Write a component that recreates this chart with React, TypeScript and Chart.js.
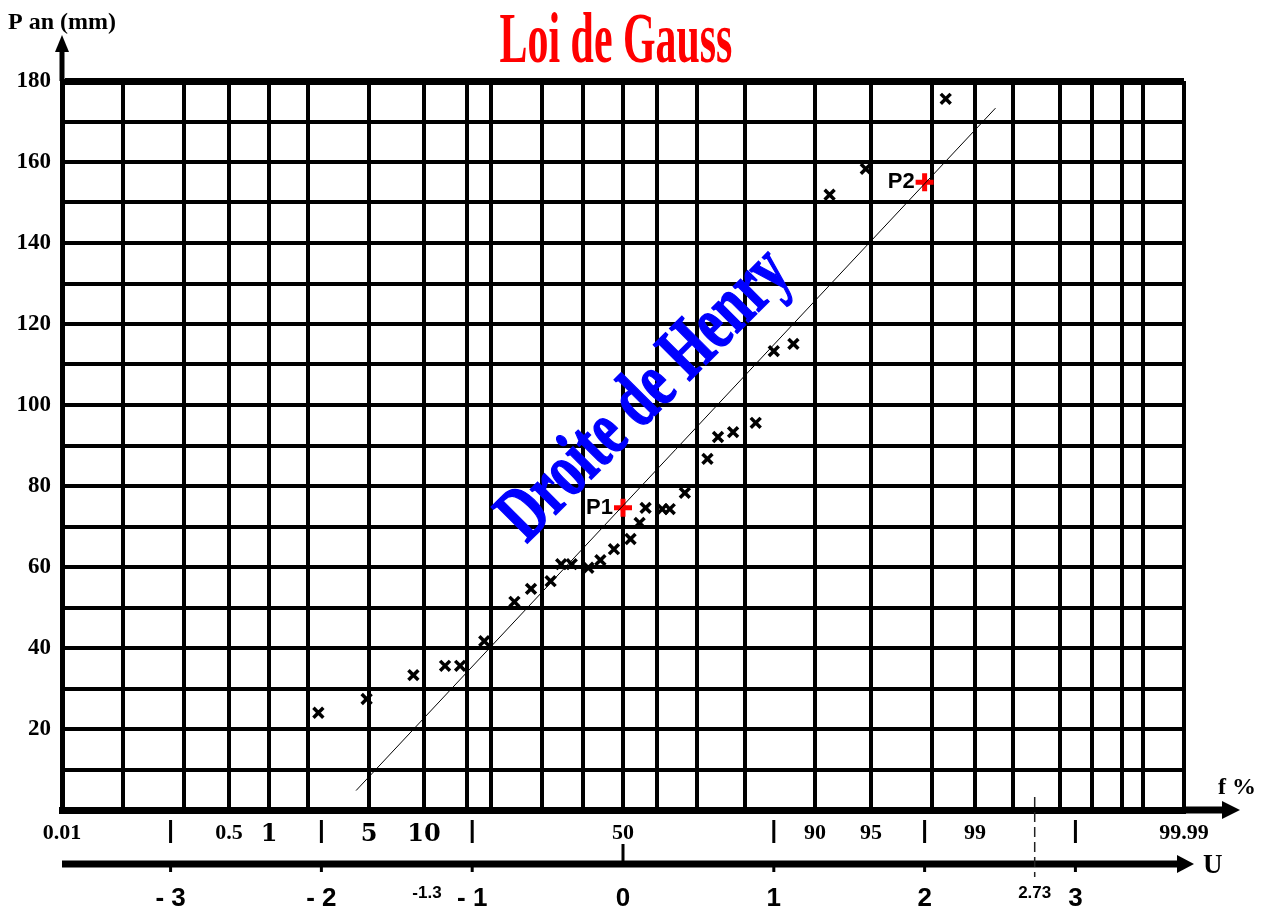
import React, { useEffect, useRef } from "react";
import { Chart, registerables } from "chart.js";

Chart.register(...registerables);

// ---- Data ----
const yMin = 0;
const yMax = 180;
const yStep = 10;
const yLabelValues = [20, 40, 60, 80, 100, 120, 140, 160, 180];

// probability grid (f %) and where each line sits on the U (normal variable) scale
const probGrid = ["0.01", "0.05", "0.2", "0.5", "1", "2", "5", "10", "15", "20", "30", "40", "50", "60", "70", "80", "90", "95", "98", "99", "99.5", "99.8", "99.9", "99.95", "99.97", "99.99"];
const gridU = [-3.72, -3.316, -2.911, -2.613, -2.347, -2.089, -1.684, -1.32, -1.034, -0.875, -0.537, -0.265, 0, 0.225, 0.491, 0.809, 1.273, 1.645, 2.049, 2.334, 2.586, 2.898, 3.11, 3.309, 3.448, 3.72];
const probLabelShown = ["0.01", "0.5", "1", "5", "10", "50", "90", "95", "99", "99.99"];
const probBigLabels = ["1", "5", "10"];

// U axis
const uTicks = [-3, -2, -1.3, -1, 0, 1, 2, 2.73, 3];
const uTickLabels = ["- 3", "- 2", "-1.3", "- 1", "0", "1", "2", "2.73", "3"];
const uSmallLabels = ["-1.3", "2.73"];
const uMarks = [-3, -2, -1, 1, 2, 3];
const uDashed = 2.73;

// observed annual precipitation (mm) vs U
const obsU = [-2.02, -1.70, -1.39, -1.18, -1.08, -0.92, -0.72, -0.61, -0.48, -0.41, -0.34, -0.23, -0.15, -0.06, 0.05, 0.11, 0.15, 0.26, 0.31, 0.41, 0.56, 0.63, 0.73, 0.88, 1.0, 1.13, 1.37, 1.61, 2.14];
const obsP = [24.0, 27.4, 33.3, 35.6, 35.6, 41.7, 51.4, 54.6, 56.5, 60.7, 60.7, 59.8, 61.7, 64.4, 66.9, 70.9, 74.6, 74.3, 74.3, 78.3, 86.7, 92.1, 93.3, 95.6, 113.3, 115.1, 151.9, 158.3, 175.6];

// Droite de Henry
const henryU = [-1.77, 2.47];
const henryP = [4.8, 173.3];

// reference points
const refNames = ["P1", "P2"];
const refU = [0, 2];
const refP = [74.6, 155];

const SERIF = '"Liberation Serif", "Times New Roman", serif';
const SANS = '"Liberation Sans", Arial, sans-serif';

function tri(ctx: CanvasRenderingContext2D, pts: number[][]) {
  ctx.beginPath();
  ctx.moveTo(pts[0][0], pts[0][1]);
  for (let i = 1; i < pts.length; i++) ctx.lineTo(pts[i][0], pts[i][1]);
  ctx.closePath();
  ctx.fill();
}

const decoPlugin = {
  id: "deco",
  afterDraw(chart: any) {
    const ctx: CanvasRenderingContext2D = chart.ctx;
    const a = chart.chartArea;
    const xs = chart.scales.x;
    const ys = chart.scales.y;
    ctx.save();
    ctx.fillStyle = "#000";
    ctx.strokeStyle = "#000";

    // vertical axis extension + arrow
    ctx.lineWidth = 5;
    ctx.beginPath();
    ctx.moveTo(a.left, a.top);
    ctx.lineTo(a.left, a.top - 31);
    ctx.stroke();
    tri(ctx, [[a.left - 7, a.top - 29], [a.left + 7, a.top - 29], [a.left, a.top - 46]]);

    // y axis title
    ctx.font = `bold 24px ${SERIF}`;
    ctx.textAlign = "left";
    ctx.textBaseline = "middle";
    ctx.fillText("P an (mm)", 8, 23);

    // f % axis extension + arrow
    ctx.lineWidth = 7;
    ctx.beginPath();
    ctx.moveTo(a.right - 2, a.bottom);
    ctx.lineTo(a.right + 40, a.bottom);
    ctx.stroke();
    tri(ctx, [[a.right + 38, a.bottom - 9], [a.right + 38, a.bottom + 9], [a.right + 56, a.bottom]]);
    ctx.font = `bold 24px ${SERIF}`;
    ctx.fillText("f %", a.right + 34, a.bottom - 22);

    // marks between the two axes at integer U
    for (const u of uMarks) {
      const px = xs.getPixelForValue(u);
      ctx.fillRect(px - 1.5, a.bottom + 10, 3, 23);
    }

    // U axis
    const uy = a.bottom + 54;
    ctx.lineWidth = 7;
    ctx.beginPath();
    ctx.moveTo(a.left, uy);
    ctx.lineTo(a.right - 4, uy);
    ctx.stroke();
    tri(ctx, [[a.right - 7, uy - 9], [a.right - 7, uy + 9], [a.right + 10, uy]]);
    ctx.font = `bold 27px ${SERIF}`;
    ctx.fillText("U", a.right + 19, uy + 2);
    for (const u of uMarks) {
      const px = xs.getPixelForValue(u);
      ctx.fillRect(px - 1.5, uy, 3, 8);
    }
    const p0 = xs.getPixelForValue(0);
    ctx.fillRect(p0 - 1.5, uy - 20, 3, 20);

    // dashed line at U = 2.73
    const pd = xs.getPixelForValue(uDashed);
    ctx.lineWidth = 1.5;
    ctx.strokeStyle = "#222";
    ctx.setLineDash([10, 5]);
    ctx.beginPath();
    ctx.moveTo(pd, a.bottom - 13);
    ctx.lineTo(pd, a.bottom + 67);
    ctx.stroke();
    ctx.setLineDash([]);

    // reference point labels
    ctx.font = `bold 22px ${SANS}`;
    ctx.textAlign = "right";
    ctx.textBaseline = "middle";
    ctx.fillStyle = "#000";
    for (let i = 0; i < refNames.length; i++) {
      const px = xs.getPixelForValue(refU[i]);
      const py = ys.getPixelForValue(refP[i]);
      ctx.fillText(refNames[i], px - 10, py);
    }

    // title
    ctx.save();
    ctx.translate(616, 62);
    ctx.scale(0.59, 1);
    ctx.font = `bold 71px ${SERIF}`;
    ctx.fillStyle = "#ff0000";
    ctx.textAlign = "center";
    ctx.textBaseline = "alphabetic";
    ctx.fillText("Loi de Gauss", 0, 0);
    ctx.restore();

    // Droite de Henry label
    ctx.save();
    ctx.translate(646, 396);
    ctx.rotate(-Math.PI / 4);
    ctx.scale(0.7, 1);
    ctx.font = `bold 78px ${SERIF}`;
    ctx.fillStyle = "#0000ff";
    ctx.strokeStyle = "#0000ff";
    ctx.lineWidth = 1.5;
    ctx.textAlign = "center";
    ctx.textBaseline = "middle";
    ctx.fillText("Droite de Henry", 0, 0);
    ctx.strokeText("Droite de Henry", 0, 0);
    ctx.restore();

    ctx.restore();
  },
};

export default function App() {
  const ref = useRef<HTMLCanvasElement | null>(null);

  useEffect(() => {
    if (!ref.current) return;
    const chart = new Chart(ref.current, {
      type: "scatter",
      data: {
        datasets: [
          {
            label: "Henry",
            data: henryU.map((u, i) => ({ x: u, y: henryP[i] })),
            showLine: true,
            borderColor: "#000",
            borderWidth: 1,
            pointRadius: 0,
          },
          {
            label: "Observations",
            data: obsU.map((u, i) => ({ x: u, y: obsP[i] })),
            pointStyle: "crossRot",
            pointRadius: 7,
            borderColor: "#000",
            backgroundColor: "#000",
            borderWidth: 3.5,
          },
          {
            label: "Points",
            data: refU.map((u, i) => ({ x: u, y: refP[i] })),
            pointStyle: "cross",
            pointRadius: 9,
            borderColor: "#ff0000",
            backgroundColor: "#ff0000",
            borderWidth: 5,
          },
        ],
      },
      options: {
        responsive: false,
        animation: false,
        devicePixelRatio: 1,
        layout: { padding: { left: 0, right: 82, top: 81, bottom: 0 } },
        plugins: {
          legend: { display: false },
          tooltip: { enabled: false },
          title: { display: false },
        },
        scales: {
          x: {
            type: "linear",
            position: "bottom",
            min: gridU[0],
            max: gridU[gridU.length - 1],
            afterBuildTicks: (s: any) => {
              s.ticks = gridU.map((v) => ({ value: v }));
            },
            afterFit: (s: any) => {
              s.height = 40;
            },
            grid: { color: "#000", lineWidth: 4, drawTicks: false },
            border: { display: true, color: "#000", width: 7 },
            ticks: {
              autoSkip: false,
              maxRotation: 0,
              minRotation: 0,
              padding: 10,
              color: "#000",
              callback: (_v: any, i: number) => (probLabelShown.includes(probGrid[i]) ? probGrid[i] : ""),
              font: (c: any) =>
                probBigLabels.includes(probGrid[c.index])
                  ? { family: '"DejaVu Serif", serif', size: 24, weight: "bold" }
                  : { family: SERIF, size: 22, weight: "bold" },
            },
          },
          x2: {
            type: "linear",
            position: "bottom",
            min: gridU[0],
            max: gridU[gridU.length - 1],
            afterBuildTicks: (s: any) => {
              s.ticks = uTicks.map((v) => ({ value: v }));
            },
            afterFit: (s: any) => {
              s.height = 61;
            },
            grid: { display: false, drawTicks: false },
            border: { display: false },
            ticks: {
              autoSkip: false,
              maxRotation: 0,
              minRotation: 0,
              padding: 33,
              color: "#000",
              callback: (_v: any, i: number) => uTickLabels[i],
              font: (c: any) =>
                uSmallLabels.includes(uTickLabels[c.index])
                  ? { family: SANS, size: 17, weight: "bold" }
                  : { family: SANS, size: 26, weight: "bold" },
            },
          },
          y: {
            type: "linear",
            position: "left",
            min: yMin,
            max: yMax,
            afterFit: (s: any) => {
              s.width = 62;
            },
            grid: {
              color: "#000",
              lineWidth: (c: any) => (c.tick && c.tick.value === yMax ? 7 : 4),
              drawTicks: false,
            },
            border: { display: true, color: "#000", width: 5 },
            ticks: {
              stepSize: yStep,
              autoSkip: false,
              padding: 11,
              color: "#000",
              font: { family: SERIF, size: 23, weight: "bold" },
              callback: (v: any) => (yLabelValues.includes(Number(v)) ? String(v) : ""),
            },
          },
        },
      } as any,
      plugins: [decoPlugin],
    });
    return () => chart.destroy();
  }, []);

  return (
    <div style={{ position: "absolute", left: 0, top: 0, width: 1266, height: 911, background: "#fff" }}>
      <canvas ref={ref} width={1266} height={911} style={{ display: "block", width: 1266, height: 911 }} />
    </div>
  );
}
